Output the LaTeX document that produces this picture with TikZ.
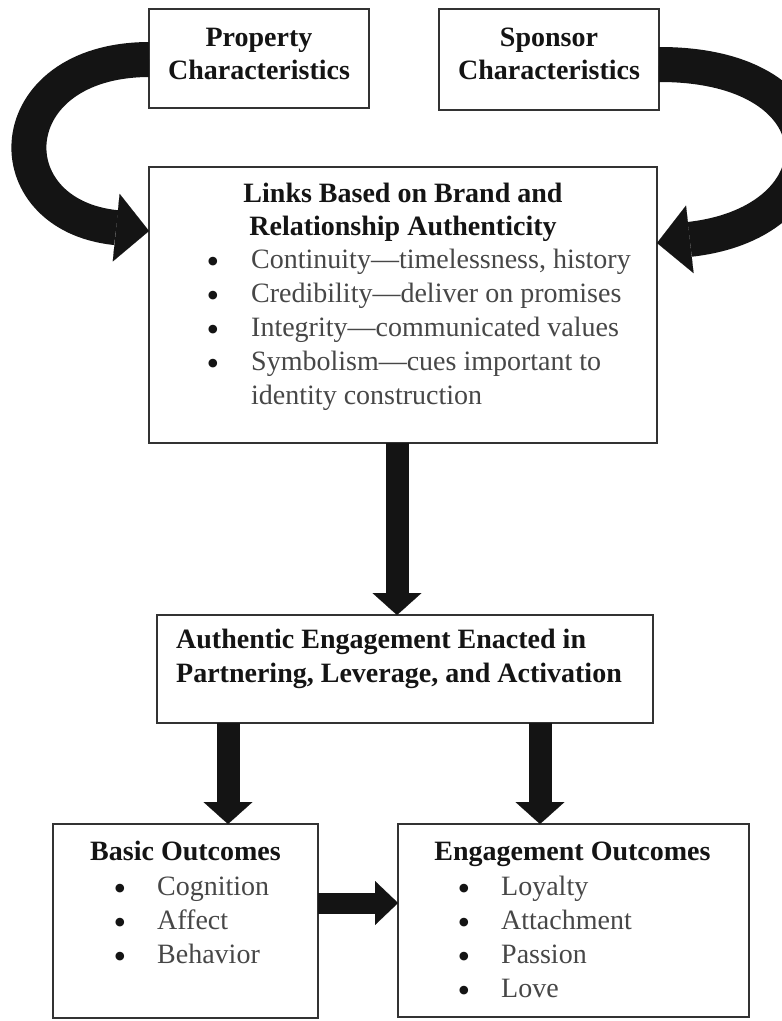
\documentclass[tikz,border=0pt]{standalone}
\usepackage{fontspec}
\setmainfont{Liberation Serif}
\usetikzlibrary{arrows.meta,calc}
\begin{document}
\begin{tikzpicture}[x=1pt,y=-1pt,
  box/.style={draw=black!80, line width=2pt, inner sep=0pt, outer sep=0pt},
  ttl/.style={font=\fontsize{28}{34}\selectfont\bfseries, text=black!92, inner sep=0pt, anchor=base},
  itm/.style={font=\fontsize{28}{34}\selectfont, text=black!72, inner sep=0pt, anchor=base west},
  bul/.style={font=\fontsize{36}{36}\selectfont, text=black!92, inner sep=0pt, anchor=base, yshift=-5pt},
  fat/.style={line width=23pt, draw=black!92, -{Triangle[length=22pt,width=49pt,line width=0.1pt]}},
  harrow/.style={line width=21pt, draw=black!92, -{Triangle[length=23pt,width=44pt,line width=0.1pt]}},
  curvy/.style={line width=35pt, draw=black!92, -{Triangle[length=33pt,width=68pt,line width=0.1pt]}},
]
\useasboundingbox (0,0) rectangle (782,1021);
\fill[white] (0,0) rectangle (782,1021);

% boxes
\node[box, minimum width=220pt, minimum height=99pt] (prop) at (259,58.5) {};
\node[box, minimum width=220pt, minimum height=101pt] (spon) at (549,59.5) {};
\node[box, minimum width=508pt, minimum height=276pt] (links) at (403,305) {};
\node[box, minimum width=496pt, minimum height=108pt] (act) at (405,669) {};
\node[box, minimum width=265pt, minimum height=194pt] (basic) at (185.5,921) {};
\node[box, minimum width=351pt, minimum height=193pt] (eng) at (573.5,920.5) {};

% curved arrows
\draw[curvy] ([yshift=-1pt]prop.west) .. controls (-2,60) and (-8,215) .. ($(links.north west)+(0,64)$);
\draw[curvy] ([yshift=-5pt]spon.east) .. controls (845,64) and (845,222) .. ($(links.north east)+(0,76)$);

% straight arrows
\draw[fat] ([xshift=-6pt]links.south) -- ([xshift=-6pt]links.south |- act.north);
\draw[fat] ([xshift=-177pt]act.south) -- ([xshift=-177pt]act.south |- basic.north);
\draw[fat] ([xshift=135pt]act.south) -- ([xshift=135pt]act.south |- eng.north);
\draw[harrow] ([yshift=18pt]basic.east) -- ([yshift=18pt]basic.east -| eng.west);

% texts
\node[ttl] (pt1) at (259,46) {Property};
\node[ttl] (pt2) at (259,79) {Characteristics};
\node[ttl] (st1) at (549,46) {Sponsor};
\node[ttl] (st2) at (549,79) {Characteristics};

\node[ttl] (lt1) at (403,202) {Links Based on Brand and};
\node[ttl] (lt2) at (403,235) {Relationship Authenticity};
\node[bul] (lb1) at (213,268) {\textbullet};
\node[bul] (lb2) at (213,302) {\textbullet};
\node[bul] (lb3) at (213,336) {\textbullet};
\node[bul] (lb4) at (213,370) {\textbullet};
\node[itm] (li1) at (251,268) {Continuity---timelessness, history};
\node[itm] (li2) at (251,302) {Credibility---deliver on promises};
\node[itm] (li3) at (251,336) {Integrity---communicated values};
\node[itm] (li4) at (251,370) {Symbolism---cues important to};
\node[itm] (li5) at (251,404) {identity construction};

\node[ttl, anchor=base west] (at1) at (176,648) {Authentic Engagement Enacted in};
\node[ttl, anchor=base west] (at2) at (176,682) {Partnering, Leverage, and Activation};

\node[ttl] (bt) at (185.5,860) {Basic Outcomes};
\node[bul] (bb1) at (120,895) {\textbullet};
\node[bul] (bb2) at (120,929) {\textbullet};
\node[bul] (bb3) at (120,963) {\textbullet};
\node[itm] (bi1) at (157,895) {Cognition};
\node[itm] (bi2) at (157,929) {Affect};
\node[itm] (bi3) at (157,963) {Behavior};

\node[ttl] (et) at (572.5,860) {Engagement Outcomes};
\node[bul] (eb1) at (464,895) {\textbullet};
\node[bul] (eb2) at (464,929) {\textbullet};
\node[bul] (eb3) at (464,963) {\textbullet};
\node[bul] (eb4) at (464,997) {\textbullet};
\node[itm] (ei1) at (501,895) {Loyalty};
\node[itm] (ei2) at (501,929) {Attachment};
\node[itm] (ei3) at (501,963) {Passion};
\node[itm] (ei4) at (501,997) {Love};
\end{tikzpicture}
\end{document}
